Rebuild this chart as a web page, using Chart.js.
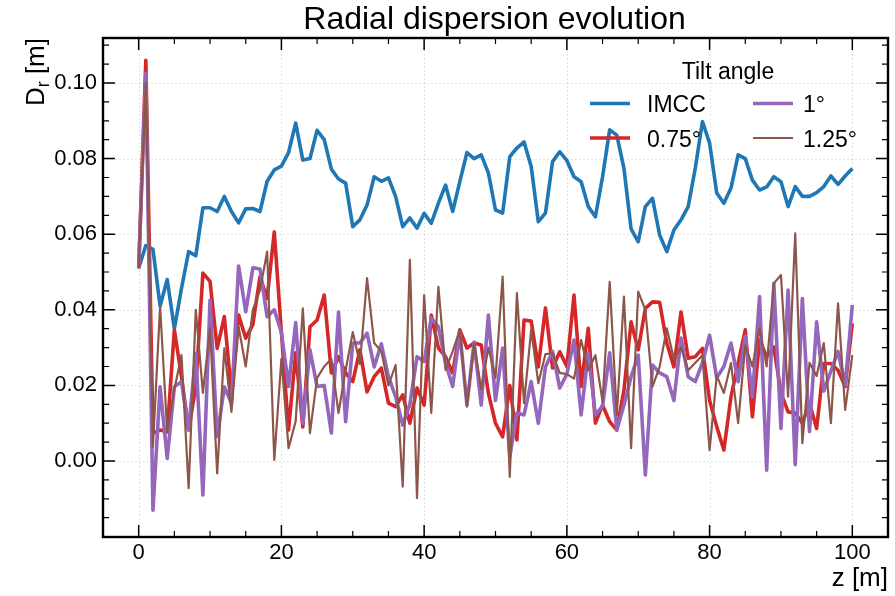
<!DOCTYPE html>
<html>
<head>
<meta charset="utf-8">
<script src="https://cdn.jsdelivr.net/npm/chart.js@4.4.1/dist/chart.umd.min.js"></script>
<style>
  html, body { margin: 0; padding: 0; background: #ffffff; }
  #wrap { width: 895px; height: 596px; position: relative; }
</style>
</head>
<body>
<div id="wrap"><canvas id="c" width="895" height="596"></canvas></div>
<script>
// Longitudinal position along the channel [m]
const zPos = [
  0,1,2,3,4,5,6,7,8,9,10,11,12,13,14,15,16,17,18,19,
  20,21,22,23,24,25,26,27,28,29,30,31,32,33,34,35,36,37,38,39,
  40,41,42,43,44,45,46,47,48,49,50,51,52,53,54,55,56,57,58,59,
  60,61,62,63,64,65,66,67,68,69,70,71,72,73,74,75,76,77,78,79,
  80,81,82,83,84,85,86,87,88,89,90,91,92,93,94,95,96,97,98,99,100
];

// Radial dispersion D_r [m] per configuration
const imcc = [
  0.051,0.057,0.056,0.041,0.048,0.035,0.0457,0.0554,0.0543,0.067,
  0.067,0.066,0.070,0.066,0.063,0.0667,0.0668,0.066,0.074,0.077,
  0.078,0.0816,0.0894,0.0796,0.080,0.0875,0.085,0.0772,0.0746,0.0735,
  0.062,0.0638,0.0677,0.0752,0.074,0.0749,0.070,0.062,0.0643,0.0616,
  0.0655,0.0629,0.0682,0.073,0.066,0.0739,0.0816,0.080,0.081,0.0762,
  0.0664,0.0656,0.0805,0.0828,0.0844,0.0779,0.0633,0.0656,0.0792,0.0818,
  0.0795,0.0752,0.0739,0.0673,0.0646,0.0752,0.0876,0.0862,0.0774,0.0614,
  0.058,0.0673,0.0695,0.0598,0.0554,0.0611,0.0638,0.0673,0.0775,0.0898,
  0.0841,0.0709,0.0682,0.0722,0.081,0.080,0.0743,0.0717,0.0725,0.0752,
  0.0739,0.0673,0.0726,0.070,0.070,0.071,0.0726,0.0754,0.0732,0.0754,
  0.0774
];
const tilt075 = [
  0.051,0.106,0.0074,0.0082,0.0077,0.0347,0.0223,0.0082,0.0196,0.0497,
  0.0475,0.0298,0.0382,0.018,0.0386,0.0325,0.0361,0.0488,0.043,0.0606,
  0.034,0.0082,0.0286,0.009,0.0355,0.0373,0.0439,0.0233,0.0276,0.0233,
  0.021,0.0294,0.0183,0.0223,0.0246,0.0153,0.0144,0.0175,0.010,0.0193,
  0.0148,0.0386,0.0299,0.0276,0.0233,0.0347,0.0299,0.0312,0.0307,0.018,
  0.010,0.0064,0.020,0.0056,0.0373,0.037,0.0249,0.0405,0.0246,0.0289,
  0.025,0.0439,0.0197,0.0351,0.010,0.0148,0.0104,0.0082,0.0188,0.0368,
  0.0294,0.0404,0.0421,0.042,0.0312,0.0249,0.0394,0.0272,0.0276,0.0298,
  0.016,0.0091,0.0029,0.017,0.0259,0.0347,0.0117,0.032,0.0276,0.0302,
  0.018,0.013,0.0127,0.010,0.0153,0.0086,0.0258,0.0258,0.024,0.0197,
  0.0364
];
const tilt1 = [
  0.051,0.1026,-0.013,0.0196,0.0007,0.0196,0.021,0.0082,0.0285,-0.009,
  0.0426,0.0064,0.0196,0.0153,0.0516,0.0395,0.0511,0.0508,0.0382,0.040,
  0.034,0.0197,0.0366,0.010,0.0294,0.0197,0.020,0.0074,0.0394,0.0104,
  0.0312,0.0312,0.0338,0.0249,0.031,0.0223,0.017,0.0095,0.015,0.0276,
  0.0263,0.0378,0.0355,0.0259,0.0197,0.0341,0.0148,0.0315,0.0148,0.0386,
  0.016,0.0299,0.0011,0.0127,0.0122,0.021,0.010,0.0249,0.029,0.0193,
  0.023,0.032,0.0122,0.0286,0.0122,0.0145,0.0286,0.0082,0.0148,0.0223,
  0.028,-0.0037,0.0254,0.0233,0.0223,0.016,0.0325,0.0223,0.021,0.026,
  0.0333,0.022,0.025,0.0312,0.021,0.033,0.017,0.0435,-0.0024,0.047,
  0.0086,0.0452,-0.001,0.043,0.0078,0.0368,0.0185,0.0238,0.029,0.020,
  0.0413
];
const tilt125 = [
  0.051,0.100,0.0038,0.041,0.0077,0.019,0.028,-0.0072,0.040,0.018,
  0.035,-0.0033,0.0298,0.013,0.0355,0.025,0.040,0.0452,0.0554,0.0003,
  0.027,0.0034,0.0105,0.0404,0.0074,0.022,0.025,0.027,0.0127,0.024,
  0.0341,0.0257,0.0484,0.0312,0.029,0.020,0.0254,-0.0068,0.0532,-0.0098,
  0.0439,0.0127,0.0461,0.0241,0.029,0.0347,0.0144,0.031,0.019,0.030,
  0.022,0.0488,-0.0042,0.0444,0.0153,0.0347,0.0206,0.0283,0.0285,0.0233,
  0.023,0.0218,0.032,0.024,0.028,0.0157,0.0474,0.0122,0.0435,0.0034,
  0.0448,0.040,0.0197,0.0249,0.0351,0.027,0.030,0.024,0.026,0.028,
  0.0029,0.0226,0.018,0.0259,0.010,0.0306,0.025,0.035,0.025,0.047,
  0.0492,0.017,0.0602,0.0047,0.026,0.0225,0.0312,0.010,0.0417,0.0135,
  0.028
];

// Series names, legend title and tick labels
const seriesNames = ['IMCC', '0.75°', '1°', '1.25°'];
const legendTitle = 'Tilt angle';
const xTicks = [0, 20, 40, 60, 80, 100];
const yTicks = [0.00, 0.02, 0.04, 0.06, 0.08, 0.10];

const FONT = '"Liberation Sans", Arial, Helvetica, sans-serif';
const colors = ['#1f77b4', '#d62728', '#9467bd', '#8c564b'];
const widths = [3.6, 3.6, 3.6, 2.2];
const seriesValues = [imcc, tilt075, tilt1, tilt125];

const toPoints = vals => zPos.map((z, i) => ({ x: z, y: vals[i] }));

const datasets = seriesValues.map((vals, i) => ({
  label: seriesNames[i],
  data: toPoints(vals),
  borderColor: colors[i],
  backgroundColor: colors[i],
  borderWidth: widths[i],
  pointRadius: 0,
  tension: 0,
  fill: false,
  borderJoinStyle: 'round',
  order: 4 - i
}));

// Grid, inward ticks on all sides, frame, titles and a two-column legend
const decorations = {
  id: 'decorations',
  beforeDatasetsDraw(chart) {
    const { ctx, chartArea: a, scales: { x, y } } = chart;
    ctx.save();
    ctx.strokeStyle = 'rgba(0,0,0,0.11)';
    ctx.lineWidth = 1;
    ctx.setLineDash([2, 2]);
    ctx.beginPath();
    xTicks.forEach(v => {
      const p = Math.round(x.getPixelForValue(v)) + 0.5;
      ctx.moveTo(p, a.top); ctx.lineTo(p, a.bottom);
    });
    yTicks.forEach(v => {
      const p = Math.round(y.getPixelForValue(v)) + 0.5;
      ctx.moveTo(a.left, p); ctx.lineTo(a.right, p);
    });
    ctx.stroke();
    ctx.restore();
  },
  afterDatasetsDraw(chart) {
    const { ctx, chartArea: a, scales: { x, y } } = chart;
    ctx.save();
    ctx.strokeStyle = '#000';
    const majorLen = 12, minorLen = 6;
    const xMinor = [], yMinor = [];
    for (let v = -5; v <= 105.001; v += 5) if (!xTicks.includes(Math.round(v))) xMinor.push(v);
    for (let k = -4; k <= 22; k++) {
      const v = k * 0.005;
      if (k % 4 !== 0 && v >= y.min - 1e-9 && v <= y.max + 1e-9) yMinor.push(v);
    }
    const drawX = (vals, len, lw) => {
      ctx.lineWidth = lw; ctx.beginPath();
      vals.forEach(v => {
        const p = x.getPixelForValue(v);
        ctx.moveTo(p, a.bottom); ctx.lineTo(p, a.bottom - len);
        ctx.moveTo(p, a.top); ctx.lineTo(p, a.top + len);
      });
      ctx.stroke();
    };
    const drawY = (vals, len, lw) => {
      ctx.lineWidth = lw; ctx.beginPath();
      vals.forEach(v => {
        const p = y.getPixelForValue(v);
        ctx.moveTo(a.left, p); ctx.lineTo(a.left + len, p);
        ctx.moveTo(a.right, p); ctx.lineTo(a.right - len, p);
      });
      ctx.stroke();
    };
    drawX(xTicks, majorLen, 1.5);
    drawX(xMinor, minorLen, 1.2);
    drawY(yTicks, majorLen, 1.5);
    drawY(yMinor, minorLen, 1.2);
    ctx.lineWidth = 2.4;
    ctx.strokeRect(a.left, a.top, a.right - a.left, a.bottom - a.top);
    ctx.restore();
  },
  afterDraw(chart) {
    const { ctx, chartArea: a } = chart;
    ctx.save();
    ctx.fillStyle = '#000';

    // Title
    ctx.font = '32px ' + FONT;
    ctx.textAlign = 'center';
    ctx.textBaseline = 'alphabetic';
    ctx.fillText('Radial dispersion evolution', (a.left + a.right) / 2 - 1, 29);

    // x-axis title, right aligned
    ctx.font = '26px ' + FONT;
    ctx.textAlign = 'right';
    ctx.fillText('z [m]', a.right, 586);

    // y-axis title D_r [m], top aligned
    ctx.save();
    ctx.translate(44, a.top);
    ctx.rotate(-Math.PI / 2);
    ctx.textAlign = 'left';
    const big = '26px ' + FONT, small = '18px ' + FONT;
    ctx.font = big;
    const wD = ctx.measureText('D').width;
    const wRest = ctx.measureText(' [m]').width;
    ctx.font = small;
    const wr = ctx.measureText('r').width;
    let px = -(wD + wr + wRest);
    ctx.font = big; ctx.fillText('D', px, 0); px += wD;
    ctx.font = small; ctx.fillText('r', px, 5); px += wr;
    ctx.font = big; ctx.fillText(' [m]', px, 0);
    ctx.restore();

    // Legend
    ctx.font = '23px ' + FONT;
    ctx.textAlign = 'center';
    ctx.fillText(legendTitle, 728, 79);
    ctx.textAlign = 'left';
    const colX = [590, 753];
    const rowY = [103.5, 138];
    chart.data.datasets.forEach((ds, i) => {
      const c = Math.floor(i / 2), r = i % 2;
      const hx = colX[c], hy = rowY[r];
      ctx.strokeStyle = ds.borderColor;
      ctx.lineWidth = ds.borderWidth;
      ctx.beginPath();
      ctx.moveTo(hx, hy); ctx.lineTo(hx + 40, hy);
      ctx.stroke();
      ctx.fillText(ds.label, hx + (c === 0 ? 57 : 50), hy + 8.5);
    });
    ctx.restore();
  }
};

new Chart(document.getElementById('c'), {
  type: 'line',
  data: { datasets },
  options: {
    responsive: false,
    animation: false,
    devicePixelRatio: 1,
    layout: { padding: { left: 0, right: 7, top: 38, bottom: 0 } },
    plugins: {
      legend: { display: false },
      title: { display: false },
      tooltip: { enabled: false }
    },
    scales: {
      x: {
        type: 'linear',
        min: -5,
        max: 105,
        afterBuildTicks: s => { s.ticks = xTicks.map(v => ({ value: v })); },
        afterFit: s => { s.height = 59; },
        grid: { display: false, drawTicks: false },
        border: { display: false },
        ticks: {
          padding: 3,
          color: '#000',
          font: { family: FONT, size: 22 },
          maxRotation: 0,
          callback: v => String(v)
        }
      },
      y: {
        type: 'linear',
        min: -0.0201,
        max: 0.1119,
        afterBuildTicks: s => { s.ticks = yTicks.map(v => ({ value: v })); },
        afterFit: s => { s.width = 103; },
        grid: { display: false, drawTicks: false },
        border: { display: false },
        ticks: {
          padding: 6,
          color: '#000',
          font: { family: FONT, size: 22 },
          callback: v => v.toFixed(2)
        }
      }
    }
  },
  plugins: [decorations]
});
</script>
</body>
</html>
